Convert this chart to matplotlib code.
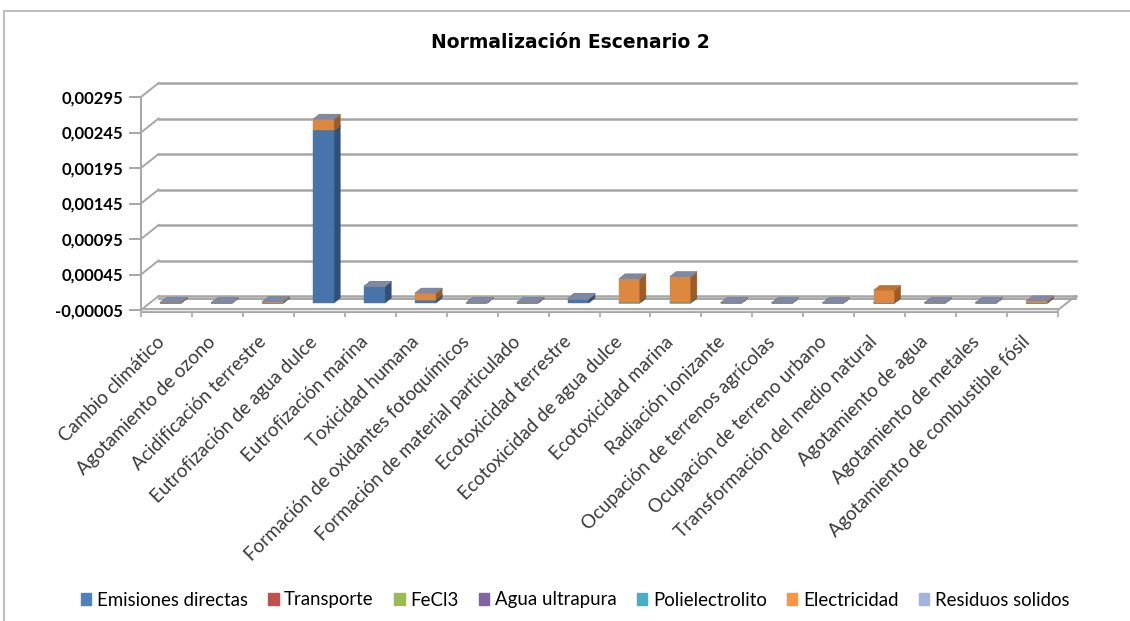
import numpy as np
import matplotlib
matplotlib.use("Agg")
import matplotlib.pyplot as plt
from matplotlib.patches import Polygon, Patch, Rectangle
from matplotlib.colors import to_rgb
from matplotlib.ticker import FuncFormatter
from matplotlib.transforms import ScaledTranslation

# --------------------------------------------------------------------------- #
# Datos
# --------------------------------------------------------------------------- #
categorias = [
    "Cambio climático", "Agotamiento de ozono", "Acidificación terrestre",
    "Eutrofización de agua dulce", "Eutrofización marina", "Toxicidad humana",
    "Formación de oxidantes fotoquímicos", "Formación de material particulado",
    "Ecotoxicidad terrestre", "Ecotoxicidad de agua dulce",
    "Ecotoxicidad marina", "Radiación ionizante",
    "Ocupación de terrenos agrícolas", "Ocupación de terreno urbano",
    "Transformación del medio natural", "Agotamiento de agua",
    "Agotamiento de metales", "Agotamiento de combustible fósil",
]
nombres = ["Emisiones directas", "Transporte", "FeCl3", "Agua ultrapura",
           "Polielectrolito", "Electricidad", "Residuos solidos"]
colores = ["#4F81BD", "#C0504D", "#9BBB59", "#8064A2", "#4BACC6",
           "#F79646", "#A3B4DC"]

emisiones = [0, 0, 0, 0.00243, 0.000234, 0.000046, 0, 0, 0.00006,
             0, 0, 0, 0, 0, 0, 0, 0, 0]
transporte = [0] * 18
fecl3 = [0, 0, 0, 0, 0, 0, 0, 0, 0, 0.00002, 0.00002, 0, 0, 0, 0, 0, 0, 0]
agua = [0] * 18
polielectrolito = [0] * 18
electricidad = [0.00001, 0, 0.00002, 0.00016, 0, 0.000094, 0.000005,
                0.00001, 0, 0.00032, 0.00035, 0.000005, 0, 0, 0.00018,
                0, 0, 0.00003]
residuos = [0, 0, 0, 0, 0, 0, 0, 0, 0, 0, 0, 0, 0, 0, np.nan, 0, 0, 0]
valores = [emisiones, transporte, fecl3, agua, polielectrolito,
           electricidad, residuos]

y_ticks = np.arange(-0.00005, 0.00296, 0.0005)
Y_MIN, Y_MAX = -0.00005, 0.00295

# pseudo-3D: desplazamiento de la profundidad en unidades de datos
DX, DY = 0.345, 0.000197
T_F, T_B = 0.25, 0.6          # plano frontal / trasero de las columnas
ANCHO = 0.41
GRIS = "#A6A6A6"


def sombra(color, f):
    return tuple(min(1.0, c * f) for c in to_rgb(color))


def caja(ax, x0, x1, y0, y1, color):
    fx0, fx1 = x0 + T_F * DX, x1 + T_F * DX
    fy0, fy1 = y0 + T_F * DY, y1 + T_F * DY
    bx0, bx1 = x0 + T_B * DX, x1 + T_B * DX
    by0, by1 = y0 + T_B * DY, y1 + T_B * DY
    kw = dict(closed=True, clip_on=False, lw=0.3, zorder=5)
    ax.add_patch(Polygon([(fx0, fy0), (fx1, fy0), (fx1, fy1), (fx0, fy1)],
                         fc=sombra(color, 0.9), ec=sombra(color, 0.9), **kw))
    ax.add_patch(Polygon([(fx1, fy0), (bx1, by0), (bx1, by1), (fx1, fy1)],
                         fc=sombra(color, 0.62), ec=sombra(color, 0.62), **kw))
    ax.add_patch(Polygon([(fx0, fy1), (fx1, fy1), (bx1, by1), (bx0, by1)],
                         fc=sombra(color, 0.76), ec=sombra(color, 0.76), **kw))


fig = plt.figure(figsize=(11.3, 6.21), dpi=100)
ax = fig.add_axes([141 / 1130, 1 - 310 / 621, 917 / 1130, 213 / 621])
ax.set_xlim(-0.5, 17.5)
ax.set_ylim(Y_MIN, Y_MAX)

# paredes y suelo
for v in y_ticks:
    ax.plot([-0.5 + DX, 17.5 + DX], [v + DY, v + DY], color=GRIS, lw=1.8,
            clip_on=False, zorder=1)
    ax.plot([-0.5, -0.5 + DX], [v, v + DY], color=GRIS, lw=1.4,
            clip_on=False, zorder=1)
ax.plot([-0.5 + DX, 17.5 + DX], [Y_MIN + DY * 0.8] * 2, color=GRIS, lw=1.4,
        clip_on=False, zorder=1)
ax.plot([-0.5, 17.5], [Y_MIN, Y_MIN], color=GRIS, lw=3.6, clip_on=False,
        zorder=2, solid_capstyle="butt")
ax.plot([-0.5, 17.5], [Y_MIN, Y_MIN], color="#E6E6E6", lw=1.0, clip_on=False,
        zorder=2, solid_capstyle="butt")
ax.plot([17.5, 17.5 + DX], [Y_MIN, Y_MIN + DY], color=GRIS, lw=1.4,
        clip_on=False, zorder=2)

# columnas apiladas
x = np.arange(len(categorias))
for i in x:
    base = 0.0
    for serie, col in zip(valores, colores):
        v = serie[i]
        if np.isnan(v):
            continue
        caja(ax, i - ANCHO / 2, i + ANCHO / 2, base, base + v, col)
        base += v

# ejes
for s in ("top", "right", "bottom"):
    ax.spines[s].set_visible(False)
ax.spines["left"].set_color(GRIS)
ax.spines["left"].set_linewidth(1.4)
ax.set_yticks(y_ticks)
ax.yaxis.set_major_formatter(FuncFormatter(
    lambda v, _: f"{v:.5f}".replace(".", ",")))
ax.tick_params(axis="y", length=9, width=1.4, color=GRIS, pad=4,
               labelsize=12)
for t in ax.get_yticklabels():
    t.set_fontfamily("Lato")
    t.set_fontweight("bold")

ax.set_xticks(x)
ax.set_xticks(np.arange(-0.5, 18, 1), minor=True)
ax.tick_params(axis="x", which="major", length=0, pad=21)
ax.tick_params(axis="x", which="minor", length=5, width=1.2, color=GRIS)
ax.set_xticklabels(categorias, rotation=45, ha="right", va="center",
                   rotation_mode="anchor", fontsize=13.5, family="Lato",
                   color="#3A3A3A")
desplaza = ScaledTranslation(-5 / 100, 0, fig.dpi_scale_trans)
for t in ax.get_xticklabels():
    t.set_transform(t.get_transform() + desplaza)

fig.text(0.505, 1 - 42 / 621, "Normalización Escenario 2", ha="center",
         va="center", fontsize=13.5, fontweight="bold", family="DejaVu Sans")

handles = [Patch(fc=c, ec=c) for c in colores]
fig.legend(handles, nombres, loc="center", bbox_to_anchor=(0.509, 1 - 600 / 621),
           ncol=7, frameon=False, handlelength=0.55, handleheight=0.55,
           handletextpad=0.3, columnspacing=1.1,
           prop=dict(family="Lato", size=13.4))

fig.add_artist(Rectangle((4 / 1130, -0.1), 1.2, 1.1 - 11 / 621, fill=False,
                         ec="#BFBFBF", lw=1.5, transform=fig.transFigure))

fig.savefig("out.png", dpi=100)
